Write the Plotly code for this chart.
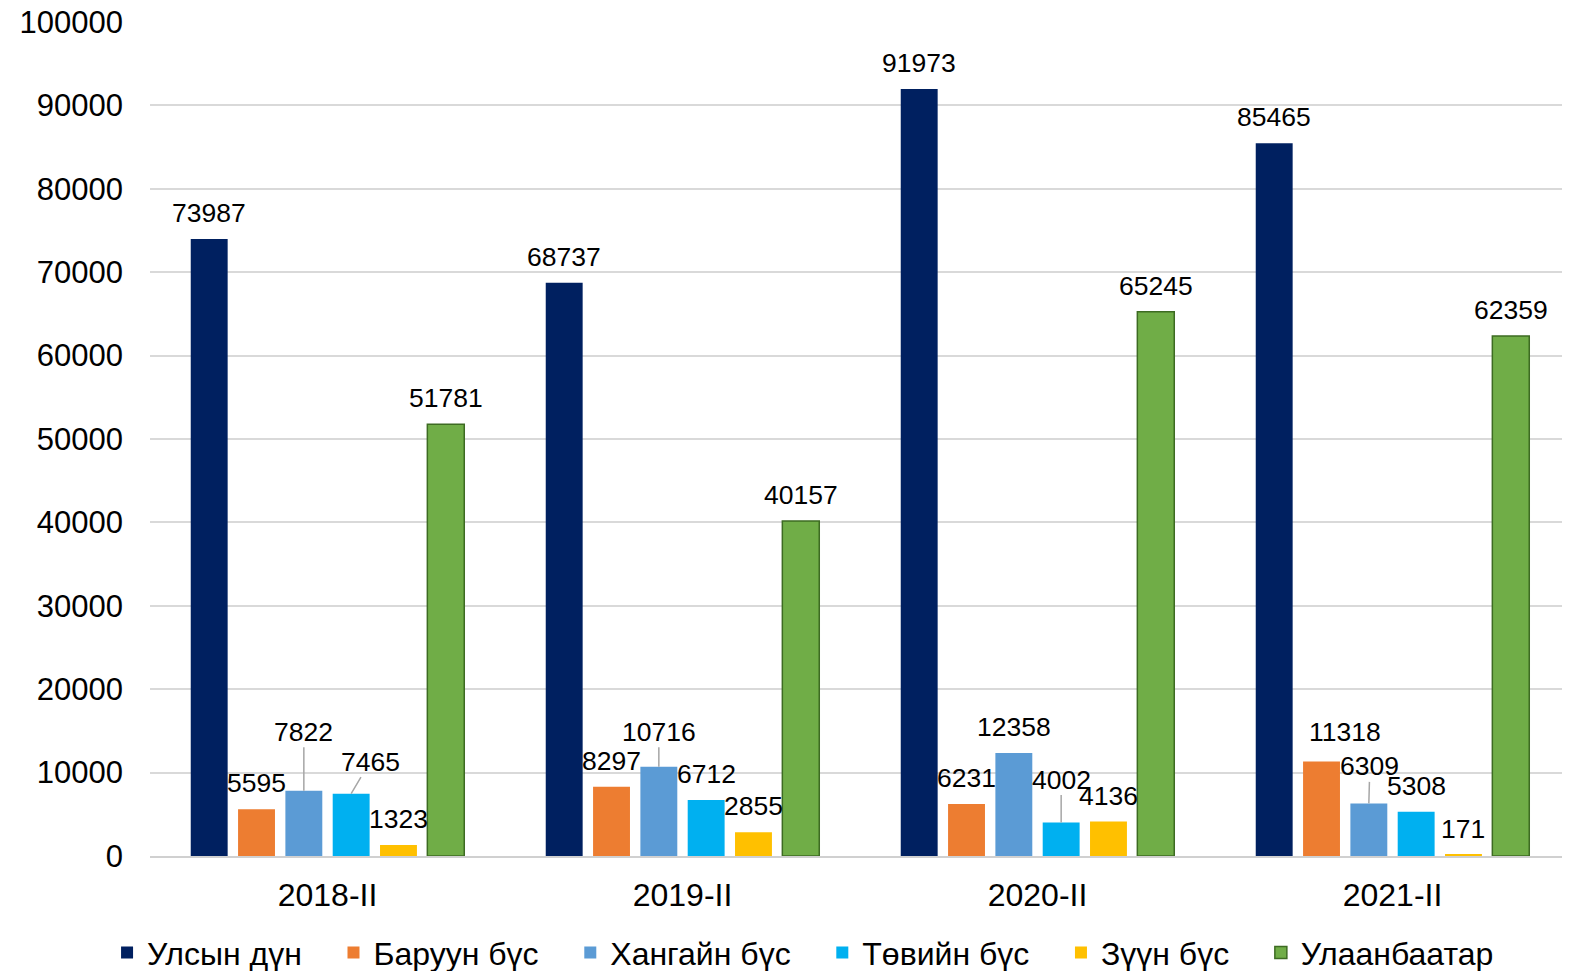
import plotly.graph_objects as go

categories = ["2018-II", "2019-II", "2020-II", "2021-II"]
series_names = ["Улсын дүн", "Баруун бүс", "Хангайн бүс", "Төвийн бүс", "Зүүн бүс", "Улаанбаатар"]
ulsyn_dun = [73987, 68737, 91973, 85465]
baruun = [5595, 8297, 6231, 11318]
khangai = [7822, 10716, 12358, 6309]
tuv = [7465, 6712, 4002, 5308]
zuun = [1323, 2855, 4136, 171]
ulaanbaatar = [51781, 40157, 65245, 62359]
y_ticks = [0, 10000, 20000, 30000, 40000, 50000, 60000, 70000, 80000, 90000, 100000]

series_values = [ulsyn_dun, baruun, khangai, tuv, zuun, ulaanbaatar]
colors = ["#002060", "#ED7D31", "#5B9BD5", "#00B0F0", "#FFC000", "#70AD47"]
line_colors = ["#002060", "#ED7D31", "#5B9BD5", "#00B0F0", "#FFC000", "#3D6B22"]

# label placement overrides: (series index, category index) -> (dx px, dy px, leader)
default_dy = -26
label_offsets = {
    (2, 0): (0, -59, True),
    (3, 0): (19, -32, True),
    (2, 1): (0, -35, True),
    (3, 2): (0, -43, True),
    (1, 3): (23, -30, False),
    (2, 3): (1, -37, True),
}

pitch = 0.1333
bar_w = 0.104
FONT = "Arial, 'Liberation Sans', sans-serif"
LBL = 26.5
PAD = "\u00a0\u00a0\u00a0"

fig = go.Figure()
annotations = []
for k, (name, vals) in enumerate(zip(series_names, series_values)):
    xs = [i + (k - 2.5) * pitch for i in range(len(categories))]
    fig.add_trace(go.Bar(
        x=xs, y=vals, name=name + (PAD if k < len(series_names) - 1 else ""), width=bar_w,
        marker=dict(color=colors[k], line=dict(color=line_colors[k], width=1.5 if k == 5 else 0)),
    ))
    for i, (x, v) in enumerate(zip(xs, vals)):
        dx, dy, leader = label_offsets.get((k, i), (0, default_dy, False))
        if leader:
            annotations.append(dict(
                x=x, y=v, xref="x", yref="y", text=str(v), showarrow=True,
                arrowhead=0, arrowwidth=1.5, arrowcolor="#A6A6A6", ax=dx, ay=dy,
                standoff=0, font=dict(size=LBL, color="black", family=FONT),
                borderpad=0,
            ))
        else:
            annotations.append(dict(
                x=x, y=v, xref="x", yref="y", text=str(v), showarrow=False,
                xshift=dx, yshift=-dy, font=dict(size=LBL, color="black", family=FONT),
            ))

fig.update_layout(
    width=1562, height=963,
    margin=dict(l=142, r=0, t=14, b=115, autoexpand=False),
    plot_bgcolor="white", paper_bgcolor="white",
    font=dict(family=FONT, color="black"),
    barmode="overlay",
    annotations=annotations,
    showlegend=True,
    legend=dict(
        orientation="h", xref="container", yref="container",
        x=0.509, y=0.019, xanchor="center", yanchor="middle",
        font=dict(size=32, family=FONT, color="black"),
        itemwidth=30, tracegroupgap=0,
    ),
    xaxis=dict(
        range=[-0.5, 3.5], tickmode="array",
        tickvals=list(range(len(categories))), ticktext=categories,
        showgrid=False, zeroline=False, showline=True, linecolor="#D0D0D0", linewidth=2,
        tickfont=dict(size=32, family=FONT, color="black"),
        ticks="", ticklabelstandoff=10, automargin=False,
    ),
    yaxis=dict(
        range=[0, 100000], tickmode="array", tickvals=y_ticks,
        ticktext=[str(t) for t in y_ticks],
        showgrid=True, gridcolor="#D9D9D9", gridwidth=1.5,
        zeroline=False, showline=False,
        tickfont=dict(size=31, family=FONT, color="black"),
        ticks="", ticklabelstandoff=26, ticklabeloverflow="allow", automargin=False,
    ),
)

fig.write_html("out.html")
